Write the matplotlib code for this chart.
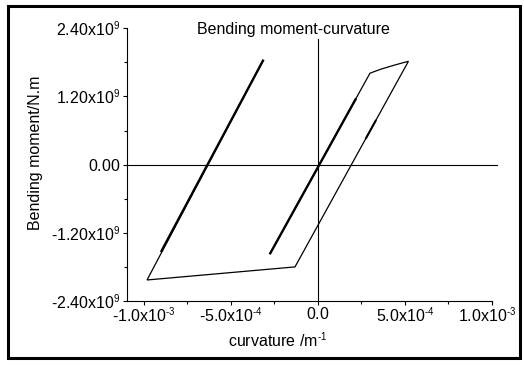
import matplotlib
matplotlib.use('Agg')
import matplotlib.pyplot as plt
from matplotlib.patches import Rectangle

try:
    import matplotlib._mathtext as _mt
    _mt.SHRINK_FACTOR = 0.6
except Exception:
    pass

plt.rcParams['font.family'] = ['Liberation Sans', 'DejaVu Sans']
plt.rcParams['mathtext.fontset'] = 'custom'
plt.rcParams['mathtext.rm'] = 'Liberation Sans'
plt.rcParams['mathtext.it'] = 'Liberation Sans:italic'
plt.rcParams['mathtext.bf'] = 'Liberation Sans:bold'

# ---- data: curvature (1/m) and bending moment (N.m) ----
loop_curvature = [-0.274e-3, 0.299e-3, 0.361e-3, 0.437e-3, 0.520e-3, -0.132e-3, -0.982e-3, -0.316e-3]
loop_moment = [-1.56e9, 1.61e9, 1.68e9, 1.75e9, 1.82e9, -1.80e9, -2.03e9, 1.83e9]

center_branch_curvature = [-0.274e-3, 0.216e-3]
center_branch_moment = [-1.56e9, 1.15e9]

left_branch_curvature = [-0.899e-3, -0.316e-3]
left_branch_moment = [-1.52e9, 1.83e9]

right_branch_curvature = [0.277e-3, 0.331e-3]
right_branch_moment = [0.47e9, 0.77e9]

x_ticks = [-1.0e-3, -5.0e-4, 0.0, 5.0e-4, 1.0e-3]
x_tick_labels = [r'$\mathregular{‐1.0x10^{‐3}}$', r'$\mathregular{‐5.0x10^{‐4}}$',
                 r'$\mathregular{0.0}$', r'$\mathregular{5.0x10^{‐4}}$',
                 r'$\mathregular{1.0x10^{‐3}}$']
x_minor_ticks = [-7.5e-4, -2.5e-4, 2.5e-4, 7.5e-4]
y_ticks = [2.4e9, 1.2e9, 0.0, -1.2e9, -2.4e9]
y_tick_labels = [r'$\mathregular{2.40x10^{9}}$', r'$\mathregular{1.20x10^{9}}$',
                 r'$\mathregular{0.00}$', r'$\mathregular{‐1.20x10^{9}}$',
                 r'$\mathregular{‐2.40x10^{9}}$']
y_minor_ticks = [1.8e9, 0.6e9, -0.6e9, -1.8e9]

title = 'Bending moment-curvature'
x_label = r'$\mathregular{curvature\ /m^{‐1}}$'
y_label = 'Bending moment/N.m'

fig = plt.figure(figsize=(5.24, 3.65), dpi=100)
ax = fig.add_axes([126.5 / 524, (365 - 301) / 365, (492 - 126.5) / 524, (301 - 28.3) / 365])

fs = 11.5
ax.plot(loop_curvature, loop_moment, color='black', lw=0.9, solid_joinstyle='miter')
ax.plot(center_branch_curvature, center_branch_moment, color='black', lw=1.7)
ax.plot(left_branch_curvature, left_branch_moment, color='black', lw=1.7)
ax.plot(right_branch_curvature, right_branch_moment, color='black', lw=1.5)

ax.axhline(0, xmin=0, xmax=1.015, color='black', lw=0.8, clip_on=False)
ax.axvline(0, ymin=0, ymax=(2.22 + 2.4) / 4.8, color='black', lw=0.8, clip_on=False)

ax.set_xlim(-1.1e-3, 1.0e-3)
ax.set_ylim(-2.4e9, 2.4e9)
ax.set_xticks(x_ticks)
# the last label is drawn separately, nudged left of its tick as in the reference
ax.set_xticklabels(x_tick_labels[:-1] + [''], fontsize=fs)
ax.annotate(x_tick_labels[-1], xy=(x_ticks[-1], 0), xycoords=('data', 'axes fraction'),
            xytext=(-3.6, -3.5), textcoords='offset points', ha='center', va='top',
            fontsize=fs, annotation_clip=False)
ax.set_xticks(x_minor_ticks, minor=True)
ax.set_yticks(y_ticks)
ax.set_yticklabels(y_tick_labels, fontsize=fs)
ax.set_yticks(y_minor_ticks, minor=True)

for s in ['top', 'right']:
    ax.spines[s].set_visible(False)
for s in ['left', 'bottom']:
    ax.spines[s].set_linewidth(0.8)

ax.tick_params(which='major', direction='out', length=3, width=0.8)
ax.tick_params(which='minor', direction='out', length=2, width=0.8)
ax.tick_params(axis='y', which='major', pad=1.5)
ax.tick_params(axis='x', which='major', pad=0.5)

ax.set_title(title, x=0.456, y=0.9956, va='center', pad=0, fontsize=fs)
ax.set_xlabel(x_label, fontsize=fs)
ax.xaxis.set_label_coords(0.413, -0.145)
ax.xaxis.label.set_va('center')
ax.set_ylabel(y_label, fontsize=fs)
ax.yaxis.set_label_coords(-0.249, 0.5446)
ax.yaxis.label.set_va('center')

fig.patches.append(Rectangle((7.5 / 524, (365 - 357.8) / 365), (519.5 - 7.5) / 524, (357.8 - 6.3) / 365,
                             transform=fig.transFigure, fill=False, lw=2.2, ec='black'))

fig.savefig('out.png', dpi=100)
